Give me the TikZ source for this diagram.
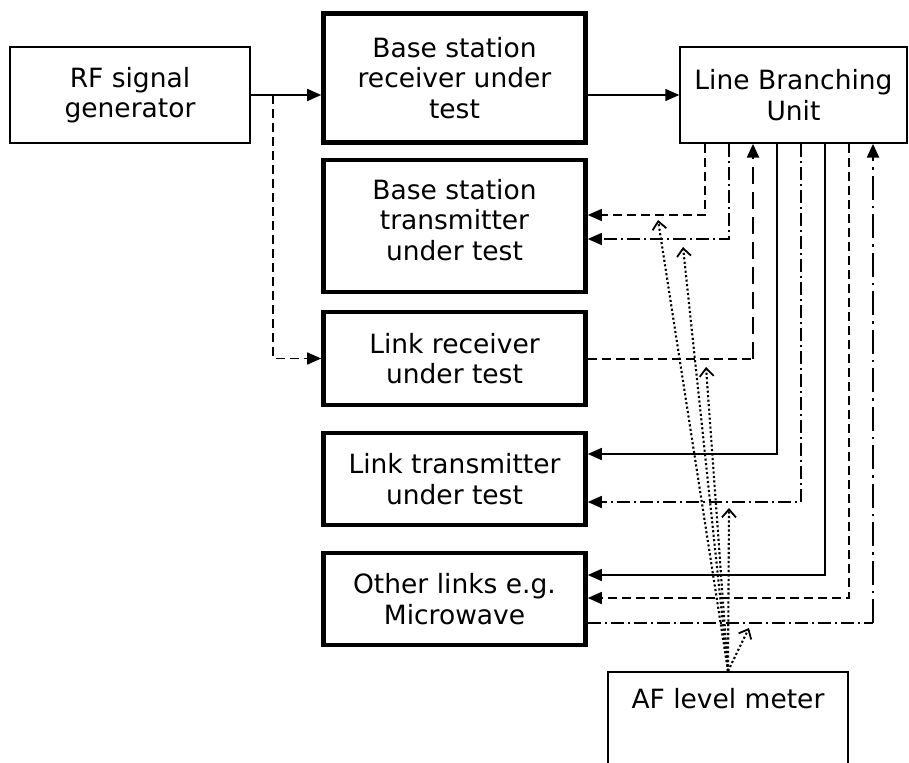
\documentclass[tikz,border=0pt]{standalone}
\usepackage{fontspec}
\setmainfont{DejaVu Sans}
\usetikzlibrary{arrows.meta}
\begin{document}
\begin{tikzpicture}[x=1pt,y=-1pt,
  thinbox/.style={draw, line width=1.5pt, rectangle, inner sep=0pt, align=center, font=\fontsize{26.5}{30.5}\selectfont},
  thickbox/.style={thinbox, line width=4.6pt, minimum width=262pt},
  lbl/.style={inner sep=0pt, align=center, font=\fontsize{26.5}{30.5}\selectfont},
  conn/.style={line width=1.6pt},
  arr/.style={-{Triangle[length=14pt,width=12pt]}},
  dsh/.style={conn, dash pattern=on 9pt off 5pt},
  dshthick/.style={line width=2.6pt, dash pattern=on 17pt off 8pt},
  dd/.style={conn, dash pattern=on 13pt off 4pt on 2pt off 4pt},
  ddthick/.style={line width=2.6pt, dash pattern=on 24pt off 6pt on 2.5pt off 6pt},
  dots/.style={line width=2.1pt, dash pattern=on 2.1pt off 2.4pt, -{Straight Barb[length=8pt,width=14pt,line width=1.8pt]}}
]
\useasboundingbox (0,0) rectangle (909,762);
\clip (0,0) rectangle (909,762);

% boxes
\node[thinbox, minimum width=240pt, minimum height=96pt] (rf) at (130,95) {RF signal\\generator};
\node[thickbox, minimum height=129pt] (bsr) at (454.5,78) {Base station\\receiver under\\test};
\node[thickbox, minimum height=132pt] (bst) at (454.5,226) {};
\node[lbl] (bsttext) at (454.5,220) {Base station\\transmitter\\under test};
\node[thickbox, minimum height=93pt] (lr) at (454.5,358.5) {Link receiver\\under test};
\node[thickbox, minimum height=92pt] (lt) at (454.5,479) {Link transmitter\\under test};
\node[thickbox, minimum height=92pt] (ol) at (454.5,599) {Other links e.g.\\Microwave};
\node[thinbox, minimum width=227pt, minimum height=96pt] (lbu) at (793.5,95) {Line Branching\\Unit};
\node[thinbox, minimum width=240pt, minimum height=160pt, anchor=north] (af) at (728,671) {};
\node[lbl] (aftext) at (728,699) {AF level meter};

% coordinates
\coordinate (split) at (273,95);
\coordinate (a1) at (705,215);
\coordinate (a2) at (729,239);
\coordinate (a3) at (753,359);
\coordinate (a4) at (777,454);
\coordinate (a5) at (801,502);
\coordinate (a6) at (825,575);
\coordinate (a7) at (849,598);
\coordinate (a8) at (873,623);
\coordinate (t1) at (658,220);
\coordinate (t2) at (683,247);
\coordinate (t3) at (706,367);
\coordinate (t4) at (729,508);
\coordinate (t5) at (749,628);

% RF connections
\draw[conn,arr] (rf.east) -- (rf.east -| bsr.west);
\draw[conn,arr] (bsr.east |- lbu.west) -- (lbu.west);
\draw[dsh,arr] (split) -- (split |- lr.west) -- (lr.west);

% LBU connections
\draw[dsh,arr] (lbu.south -| a1) -- (a1) -- (a1 -| bst.east);
\draw[dd,arr] (lbu.south -| a2) -- (a2) -- (a2 -| bst.east);
\draw[dsh] (a3 -| lr.east) -- (a3);
\draw[dshthick,arr] (a3) -- (lbu.south -| a3);
\draw[conn,arr] (lbu.south -| a4) -- (a4) -- (a4 -| lt.east);
\draw[dd,arr] (lbu.south -| a5) -- (a5) -- (a5 -| lt.east);
\draw[conn,arr] (lbu.south -| a6) -- (a6) -- (a6 -| ol.east);
\draw[dsh,arr] (lbu.south -| a7) -- (a7) -- (a7 -| ol.east);
\draw[dd] (a8 -| ol.east) -- (a8);
\draw[ddthick,arr] (a8) -- (lbu.south -| a8);

% AF level meter probes
\draw[dots] (af.north) -- (t1);
\draw[dots] (af.north) -- (t2);
\draw[dots] (af.north) -- (t3);
\draw[dots] (af.north) -- (t4);
\draw[dots] (af.north) -- (t5);
\end{tikzpicture}
\end{document}
